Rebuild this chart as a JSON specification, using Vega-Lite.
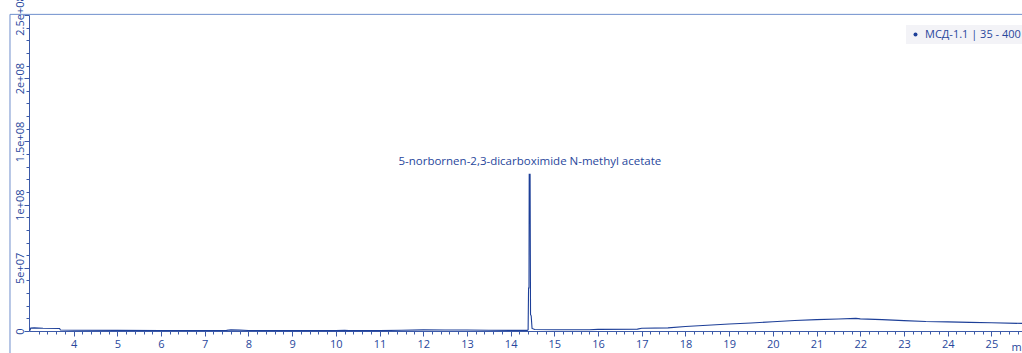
{
  "$schema": "https://vega.github.io/schema/vega-lite/v6.json",
  "width": 993,
  "height": 316,
  "autosize": {"type": "none"},
  "padding": {"left": 29, "top": 15, "right": 0, "bottom": 22},
  "background": "white",
  "config": {
    "view": {"stroke": null},
    "font": "Open Sans",
    "axis": {"labelFont": "Open Sans", "labelColor": "#28479c", "domainColor": "#3c5aa8", "tickColor": "#3c5aa8", "grid": false, "labelFontSize": 11}
  },
  "datasets": {
    "trace": [
      {"t": 3.0, "v": 300000}, {"t": 3.02, "v": 2300000}, {"t": 3.1, "v": 2500000}, {"t": 3.3, "v": 2200000},
      {"t": 3.68, "v": 2000000}, {"t": 3.7, "v": 800000}, {"t": 4.0, "v": 600000}, {"t": 5.0, "v": 500000},
      {"t": 6.0, "v": 400000}, {"t": 7.0, "v": 400000}, {"t": 7.5, "v": 500000}, {"t": 7.6, "v": 900000},
      {"t": 7.8, "v": 700000}, {"t": 8.0, "v": 400000}, {"t": 9.0, "v": 300000}, {"t": 10.0, "v": 300000},
      {"t": 10.2, "v": 500000}, {"t": 10.3, "v": 300000}, {"t": 11.0, "v": 300000}, {"t": 11.5, "v": 600000},
      {"t": 12.0, "v": 900000}, {"t": 12.5, "v": 800000}, {"t": 13.0, "v": 800000}, {"t": 13.5, "v": 600000},
      {"t": 14.0, "v": 500000}, {"t": 14.38, "v": 500000}, {"t": 14.4, "v": 1000000}, {"t": 14.41, "v": 34000000},
      {"t": 14.42, "v": 34000000}, {"t": 14.425, "v": 124000000}, {"t": 14.445, "v": 124000000}, {"t": 14.455, "v": 13000000},
      {"t": 14.47, "v": 12000000}, {"t": 14.49, "v": 2000000}, {"t": 14.55, "v": 1200000}, {"t": 15.0, "v": 1000000},
      {"t": 15.8, "v": 1000000}, {"t": 16.0, "v": 1300000}, {"t": 16.9, "v": 1500000}, {"t": 17.0, "v": 2200000},
      {"t": 17.6, "v": 2500000}, {"t": 18.0, "v": 3500000}, {"t": 18.5, "v": 4500000}, {"t": 19.0, "v": 5500000},
      {"t": 19.5, "v": 6300000}, {"t": 20.0, "v": 7300000}, {"t": 20.5, "v": 8300000}, {"t": 21.0, "v": 9000000},
      {"t": 21.5, "v": 9500000}, {"t": 21.9, "v": 10000000}, {"t": 22.0, "v": 9600000}, {"t": 22.5, "v": 9000000},
      {"t": 23.0, "v": 8200000}, {"t": 23.5, "v": 7500000}, {"t": 24.0, "v": 7200000}, {"t": 24.5, "v": 6800000},
      {"t": 25.0, "v": 6500000}, {"t": 25.7, "v": 6000000}
    ],
    "peaks": [
      {"t": 14.44, "v": 124000000, "name": "5-norbornen-2,3-dicarboximide N-methyl acetate"}
    ],
    "frame": [
      {"t": 2.545, "t2": 25.7, "v": 250500000, "v2": 250500000},
      {"t": 2.545, "t2": 2.545, "v": 250500000, "v2": -18000000}
    ]
  },
  "layer": [
    {
      "data": {"name": "trace"},
      "mark": {"type": "line", "strokeWidth": 1.1, "interpolate": "linear"},
      "encoding": {
        "x": {
          "field": "t", "type": "quantitative",
          "scale": {"domain": [2.98, 25.7], "nice": false, "zero": false},
          "axis": {
            "values": [3.2,3.4,3.6,3.8,4,4.2,4.4,4.6,4.8,5,5.2,5.4,5.6,5.8,6,6.2,6.4,6.6,6.8,7,7.2,7.4,7.6,7.8,8,8.2,8.4,8.6,8.8,9,9.2,9.4,9.6,9.8,10,10.2,10.4,10.6,10.8,11,11.2,11.4,11.6,11.8,12,12.2,12.4,12.6,12.8,13,13.2,13.4,13.6,13.8,14,14.2,14.4,14.6,14.8,15,15.2,15.4,15.6,15.8,16,16.2,16.4,16.6,16.8,17,17.2,17.4,17.6,17.8,18,18.2,18.4,18.6,18.8,19,19.2,19.4,19.6,19.8,20,20.2,20.4,20.6,20.8,21,21.2,21.4,21.6,21.8,22,22.2,22.4,22.6,22.8,23,23.2,23.4,23.6,23.8,24,24.2,24.4,24.6,24.8,25,25.2,25.4,25.6],
            "tickCount": 500,
            "labelExpr": "abs(datum.value - round(datum.value)) < 0.001 ? format(datum.value, 'd') : ''",
            "labelOverlap": false,
            "tickSize": {"condition": {"test": "abs(datum.value - round(datum.value)) < 0.001", "value": 5}, "value": 3},
            "labelPadding": 2, "domain": true,
            "title": "min", "titleX": 982, "titleY": 19, "titleAlign": "left", "titleBaseline": "alphabetic",
            "titleFont": "Open Sans", "titleFontSize": 11, "titleFontWeight": "normal", "titleColor": "#28479c"
          }
        },
        "y": {
          "field": "v", "type": "quantitative",
          "scale": {"domain": [0, 250000000], "nice": false},
          "axis": {
            "values": [0,10000000,20000000,30000000,40000000,50000000,60000000,70000000,80000000,90000000,100000000,110000000,120000000,130000000,140000000,150000000,160000000,170000000,180000000,190000000,200000000,210000000,220000000,230000000,240000000,250000000],
            "tickCount": 100,
            "labelExpr": "datum.value % 50000000 != 0 ? '' : (datum.value == 0 ? '0' : replace(format(datum.value, '~e'), 'e+', 'e+0'))",
            "labelOverlap": false,
            "tickSize": {"condition": {"test": "datum.value % 50000000 == 0", "value": 5}, "value": 3},
            "labelAngle": -90, "labelAlign": "center", "labelBaseline": "bottom", "labelPadding": -1,
            "title": null
          }
        },
        "color": {
          "datum": "МСД-1.1 | 35 - 400", "type": "nominal",
          "scale": {"range": ["#1d3f98"]},
          "legend": {
            "title": null, "orient": "none", "legendX": 877, "legendY": 10, "symbolType": "circle", "symbolSize": 16,
            "labelFont": "Open Sans", "labelFontSize": 11, "labelColor": "#28479c", "fillColor": "#f3f3f7",
            "padding": 4, "symbolFillColor": "#1d3f98", "symbolStrokeWidth": 0
          }
        }
      }
    },
    {
      "data": {"name": "peaks"},
      "mark": {"type": "text", "dy": -12, "fontSize": 11.5, "font": "Open Sans", "color": "#28479c"},
      "encoding": {
        "x": {"field": "t", "type": "quantitative"},
        "y": {"field": "v", "type": "quantitative"},
        "text": {"field": "name"}
      }
    },
    {
      "data": {"name": "frame"},
      "mark": {"type": "rule", "color": "#6f8fcc", "strokeWidth": 1},
      "encoding": {
        "x": {"field": "t", "type": "quantitative"},
        "x2": {"field": "t2"},
        "y": {"field": "v", "type": "quantitative"},
        "y2": {"field": "v2"}
      }
    }
  ]
}
